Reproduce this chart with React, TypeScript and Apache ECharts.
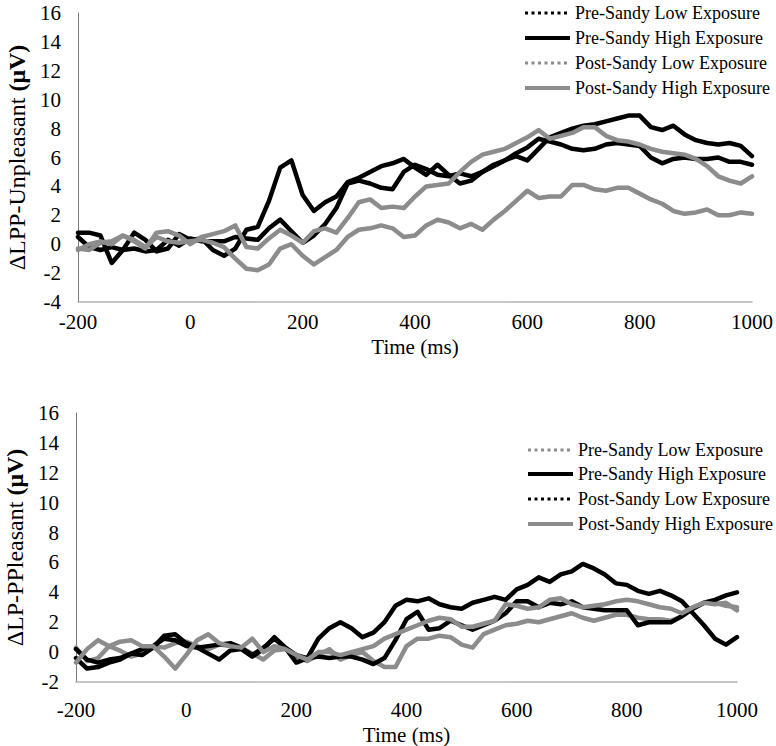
import React, { useEffect, useRef } from "react";
import * as echarts from "echarts";

const times = [
  -200, -180, -160, -140, -120, -100, -80, -60, -40, -20, 0, 20, 40, 60, 80, 100, 120, 140, 160, 180, 200,
  220, 240, 260, 280, 300, 320, 340, 360, 380, 400, 420, 440, 460, 480, 500, 520, 540, 560, 580, 600,
  620, 640, 660, 680, 700, 720, 740, 760, 780, 800, 820, 840, 860, 880, 900, 920, 940, 960, 980, 1000,
];

const seriesNames = [
  "Pre-Sandy Low Exposure",
  "Pre-Sandy High Exposure",
  "Post-Sandy Low Exposure",
  "Post-Sandy High Exposure",
];

// Top panel: ΔLPP-Unpleasant
const unpPreLow = [
  0.5, -0.2, -0.4, -0.2, -0.4, -0.3, -0.5, -0.4, 0.3, -0.1, 0.4, 0.2, 0.2, 0.2, 0.5, 0.4, 0.3, 1.1, 1.7, 0.9, 0.1,
  0.6, 1.4, 2.5, 4.2, 4.4, 4.2, 3.9, 3.8, 5.0, 5.5, 5.2, 4.8, 4.7, 4.9, 4.7, 5.0, 5.4, 5.8, 6.3, 6.7,
  7.3, 7.1, 6.9, 6.6, 6.5, 6.6, 6.9, 7.0, 6.9, 6.8, 6.0, 5.6, 5.9, 6.0, 5.9, 5.9, 6.0, 5.7, 5.7, 5.5,
];
const unpPreHigh = [
  0.8, 0.8, 0.6, -1.3, -0.4, 0.8, 0.3, -0.5, -0.3, 0.7, 0.3, 0.4, -0.4, -0.8, -0.3, 1.0, 1.2, 3.0, 5.3, 5.8, 3.4,
  2.3, 2.9, 3.3, 4.3, 4.6, 5.0, 5.4, 5.6, 5.9, 5.3, 4.8, 5.5, 4.8, 4.2, 4.4, 5.0, 5.5, 5.8, 6.1, 5.8,
  6.6, 7.4, 7.7, 8.0, 8.2, 8.3, 8.5, 8.7, 8.9, 8.9, 8.1, 7.9, 8.2, 7.6, 7.2, 7.0, 6.9, 7.0, 6.8, 6.1,
];
const unpPostLow = [
  -0.3, -0.4, 0.1, 0.2, 0.6, 0.3, -0.2, 0.5, 0.2, 0.1, 0.2, 0.3, 0.1, -0.2, -1.0, -1.7, -1.8, -1.4, -0.3, 0.0, -0.8,
  -1.4, -0.9, -0.4, 0.5, 1.0, 1.1, 1.3, 1.1, 0.5, 0.6, 1.3, 1.7, 1.5, 1.1, 1.4, 1.0, 1.7, 2.3, 3.0, 3.7,
  3.2, 3.3, 3.3, 4.1, 4.1, 3.8, 3.7, 3.9, 3.9, 3.5, 3.1, 2.8, 2.3, 2.1, 2.2, 2.4, 2.0, 2.0, 2.2, 2.1,
];
const unpPostHigh = [
  -0.4, 0.0, 0.2, 0.0, 0.6, 0.2, -0.3, 0.8, 0.9, 0.6, 0.0, 0.5, 0.7, 0.9, 1.3, -0.2, -0.3, 0.4, 1.0, 0.6, 0.1,
  0.9, 1.1, 0.8, 1.8, 2.9, 3.1, 2.5, 2.6, 2.5, 3.3, 4.0, 4.1, 4.2, 5.0, 5.7, 6.2, 6.4, 6.6, 7.0, 7.4,
  7.9, 7.3, 7.5, 7.7, 8.1, 8.1, 7.5, 7.2, 7.1, 6.9, 6.6, 6.4, 6.3, 6.2, 5.9, 5.4, 4.7, 4.4, 4.2, 4.7,
];

// Bottom panel: ΔLP-PPleasant
const plsPreLow = [
  0.3, -0.6, -0.4, 0.4, 0.1, -0.3, -0.1, 0.4, 0.3, 0.6, 0.7, 0.4, 0.2, 0.5, 0.4, 0.3, -0.1, -0.5, 0.1, 0.2, -0.3,
  -0.6, -0.2, 0.2, -0.5, -0.2, 0.0, -0.6, -1.0, -1.0, 0.4, 0.9, 0.9, 1.1, 1.0, 0.5, 0.3, 1.2, 1.5, 1.8, 1.9,
  2.1, 2.0, 2.2, 2.4, 2.6, 2.3, 2.1, 2.3, 2.5, 2.5, 2.3, 2.2, 2.2, 2.1, 2.4, 3.0, 3.3, 3.3, 3.1, 3.0,
];
const plsPreHigh = [
  -0.4, -1.1, -1.0, -0.7, -0.5, -0.1, -0.2, 0.3, 1.1, 1.2, 0.6, 0.3, -0.1, -0.5, 0.1, 0.2, -0.3, 0.2, 1.0, 0.3, -0.7,
  -0.4, 0.9, 1.6, 2.0, 1.6, 1.0, 1.3, 2.0, 3.1, 3.5, 3.4, 3.6, 3.2, 3.0, 2.9, 3.3, 3.5, 3.7, 3.5, 4.2,
  4.5, 5.0, 4.7, 5.2, 5.4, 5.9, 5.6, 5.2, 4.6, 4.5, 4.1, 3.9, 4.1, 3.8, 3.4, 2.6, 1.8, 0.9, 0.5, 1.0,
];
const plsPostLow = [
  0.2, -0.5, -0.7, -0.5, -0.4, -0.1, 0.2, 0.4, 0.9, 0.8, 0.4, 0.3, 0.4, 0.5, 0.6, 0.3, -0.2, 0.3, 0.9, 0.3, -0.2,
  -0.4, -0.3, -0.4, -0.3, -0.3, -0.5, -0.8, -0.4, 0.8, 2.2, 2.7, 1.5, 1.6, 2.1, 1.8, 1.5, 1.8, 2.1, 2.6, 3.4,
  3.4, 3.0, 3.3, 3.2, 3.4, 3.0, 2.9, 2.8, 2.8, 2.8, 1.8, 2.0, 2.0, 2.0, 2.4, 2.9, 3.3, 3.5, 3.8, 4.0,
];
const plsPostHigh = [
  -0.7, 0.2, 0.8, 0.4, 0.7, 0.8, 0.4, 0.4, -0.3, -1.1, -0.2, 0.8, 1.2, 0.6, 0.4, 0.3, 0.9, 0.0, 0.4, 0.2, -0.2,
  -0.5, 0.0, 0.0, -0.2, 0.0, 0.2, 0.4, 0.9, 1.2, 1.5, 1.8, 2.1, 2.3, 2.2, 1.7, 1.7, 1.9, 2.1, 3.2, 3.1,
  2.9, 3.0, 3.5, 3.6, 3.2, 3.0, 3.1, 3.2, 3.4, 3.5, 3.4, 3.2, 3.0, 2.9, 2.6, 3.0, 3.3, 3.2, 3.3, 2.8,
];

const BLACK = "#000000";
const GRAY = "#8c8c8c";
const FONT = "Liberation Serif";

type Panel = {
  yName: string;
  yBold: string;
  yMin: number;
  grid: { left: number; top: number; width: number; height: number };
  labelMargin: number;
  xNameGap: number;
  legendX: number;
  legendRows: number[];
  values: number[][];
  colors: string[];
  dotted: boolean[];
};

function legendGraphics(p: Panel) {
  const els: any[] = [];
  seriesNames.forEach((n, i) => {
    const y = p.legendRows[i];
    els.push({
      type: "line",
      silent: true,
      shape: { x1: p.legendX, y1: y, x2: p.legendX + 45, y2: y },
      style: p.dotted[i]
        ? { stroke: p.colors[i], lineWidth: 3, lineDash: [3, 3.5] }
        : { stroke: p.colors[i], lineWidth: 4 },
    });
    els.push({
      type: "text",
      silent: true,
      x: p.legendX + 50,
      y,
      style: {
        text: n,
        fill: "#000",
        font: `18px "${FONT}"`,
        textVerticalAlign: "middle",
        verticalAlign: "middle",
        textAlign: "left",
      },
    });
  });
  return els;
}

function buildOption(p: Panel) {
  return {
    animation: false,
    grid: {
      left: p.grid.left,
      top: p.grid.top,
      width: p.grid.width,
      height: p.grid.height,
      containLabel: false,
      outerBoundsMode: "none",
    },
    graphic: legendGraphics(p),
    xAxis: {
      type: "value",
      min: -200,
      max: 1000,
      interval: 200,
      name: "Time (ms)",
      nameLocation: "middle",
      nameGap: p.xNameGap,
      nameTextStyle: { fontFamily: FONT, fontSize: 21, color: "#000" },
      axisLine: { show: true, onZero: false, lineStyle: { color: "#b4b4b4", width: 1.5 } },
      axisTick: { show: false },
      splitLine: { show: false },
      axisLabel: {
        fontFamily: FONT,
        fontSize: 21,
        color: "#000",
        margin: p.labelMargin,
        formatter: (v: number) => String(v),
      },
    },
    yAxis: {
      type: "value",
      min: p.yMin,
      max: 16,
      interval: 2,
      name: `{a|${p.yName} }{b|${p.yBold}}`,
      nameLocation: "middle",
      nameRotate: 90,
      nameGap: 47,
      nameTextStyle: {
        fontFamily: FONT,
        fontSize: 24,
        color: "#000",
        rich: {
          a: { fontFamily: FONT, fontSize: 24, color: "#000" },
          b: { fontFamily: FONT, fontSize: 24, color: "#000", fontWeight: "bold" },
        },
      },
      axisLine: { show: true, onZero: false, lineStyle: { color: "#7a7a7a", width: 1 } },
      axisTick: { show: false },
      splitLine: { show: false },
      axisLabel: { fontFamily: FONT, fontSize: 21, color: "#000", margin: 17 },
    },
    series: seriesNames.map((n, i) => ({
      name: n,
      type: "line",
      symbol: "none",
      smooth: false,
      color: p.colors[i],
      lineStyle: { color: p.colors[i], width: 4.5, cap: "round", join: "round" },
      data: times.map((t, k) => [t, p.values[i][k]]),
    })),
  };
}

const topPanel: Panel = {
  yName: "ΔLPP-Unpleasant",
  yBold: "(μV)",
  yMin: -4,
  grid: { left: 78, top: 13, width: 674, height: 289 },
  labelMargin: 9,
  xNameGap: 21,
  legendX: 525,
  legendRows: [13, 38, 63, 88],
  values: [unpPreLow, unpPreHigh, unpPostLow, unpPostHigh],
  colors: [BLACK, BLACK, GRAY, GRAY],
  dotted: [true, false, true, false],
};

const bottomPanel: Panel = {
  yName: "ΔLP-PPleasant",
  yBold: "(μV)",
  yMin: -2,
  grid: { left: 76, top: 40, width: 661, height: 269 },
  labelMargin: 17,
  xNameGap: 39,
  legendX: 528,
  legendRows: [77, 101, 126, 151],
  values: [plsPreLow, plsPreHigh, plsPostLow, plsPostHigh],
  colors: [GRAY, BLACK, BLACK, GRAY],
  dotted: [true, false, true, false],
};

function Chart({ panel, top }: { panel: Panel; top: number }) {
  const ref = useRef<HTMLDivElement>(null);
  useEffect(() => {
    if (!ref.current) return;
    const chart = echarts.init(ref.current, undefined, { renderer: "svg" });
    chart.setOption(buildOption(panel) as any);
    return () => chart.dispose();
  }, [panel]);
  return (
    <div
      ref={ref}
      style={{ position: "absolute", left: 0, top, width: 776, height: 373, background: "#fff" }}
    />
  );
}

export default function App() {
  return (
    <div style={{ position: "fixed", left: 0, top: 0, width: 776, height: 746, background: "#fff" }}>
      <Chart panel={topPanel} top={0} />
      <Chart panel={bottomPanel} top={373} />
    </div>
  );
}
